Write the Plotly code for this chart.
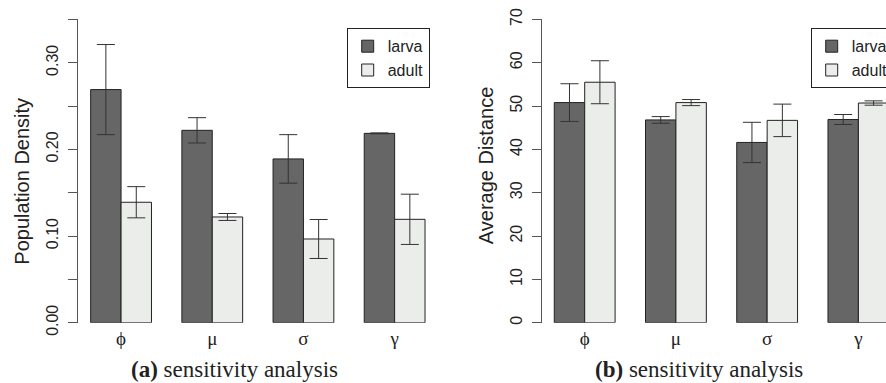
import plotly.graph_objects as go

params = ["ϕ", "μ", "σ", "γ"]

# (a) Population Density
density_larva = [0.269, 0.222, 0.189, 0.2185]
density_larva_err = [0.052, 0.0146, 0.028, 0.0005]
density_adult = [0.139, 0.122, 0.0966, 0.1193]
density_adult_err = [0.018, 0.004, 0.0225, 0.029]

# (b) Average Distance
dist_larva = [50.8, 46.8, 41.6, 46.9]
dist_larva_err = [4.35, 0.77, 4.65, 1.15]
dist_adult = [55.5, 50.8, 46.7, 50.7]
dist_adult_err = [4.96, 0.7, 3.75, 0.5]

W, H = 886, 383
LARVA = "#666666"
ADULT = "#ebedeb"
EDGE = "#222222"
AXC = "#555555"
SANS = "Liberation Sans, Arial, sans-serif"
SERIF = "Liberation Serif, Times New Roman, serif"
CAPF = "Liberation Serif, Times New Roman, serif"

fig = go.Figure()

def add(vals, errs, name, color, xa, ya, leg, show):
    fig.add_trace(go.Bar(
        x=params, y=vals, name=name, xaxis=xa, yaxis=ya, legend=leg,
        marker=dict(color=color, line=dict(color=EDGE, width=1)),
        error_y=dict(type="data", array=errs, visible=True, color="#333333",
                     thickness=1, width=9),
        showlegend=show,
    ))

add(density_larva, density_larva_err, "larva", LARVA, "x", "y", "legend", True)
add(density_adult, density_adult_err, "adult", ADULT, "x", "y", "legend", True)
add(dist_larva, dist_larva_err, "larva", LARVA, "x2", "y2", "legend2", True)
add(dist_adult, dist_adult_err, "adult", ADULT, "x2", "y2", "legend2", True)

ydom = [1 - 322.7 / H, 1 - 19.4 / H]

xcommon = dict(showline=False, ticks="", showgrid=False, zeroline=False,
               tickfont=dict(family=SERIF, size=19, color="#222222"),
               type="category", ticklabelstandoff=2)
ycommon = dict(showline=True, linecolor=AXC, linewidth=1, ticks="outside",
               ticklen=9, tickcolor=AXC, tickwidth=1, showgrid=False,
               zeroline=False, tickangle=-90, ticklabelstandoff=4,
               tickfont=dict(family=SANS, size=16, color="#222222"))

def ann(text, x, y, font, angle=0):
    return dict(text=text, x=x / W, y=1 - y / H, xref="paper", yref="paper",
                xanchor="center", yanchor="middle", textangle=angle,
                showarrow=False, font=font)

fig.update_layout(
    width=W, height=H,
    margin=dict(l=0, r=0, t=0, b=0, autoexpand=False),
    paper_bgcolor="white", plot_bgcolor="white",
    barmode="group", bargap=1 / 3, bargroupgap=0,
    xaxis=dict(domain=[77.3 / W, 438.4 / W], range=[-0.48, 3.48], anchor="y", **xcommon),
    yaxis=dict(domain=ydom, range=[0, 0.35], anchor="free", position=77.3 / W,
               tickvals=[0, 0.1, 0.2, 0.3], tickformat=".2f",
               minor=dict(dtick=0.05, ticks="outside", ticklen=9, tickcolor=AXC),
               **ycommon),
    xaxis2=dict(domain=[540.9 / W, 1.0], range=[-0.48, 3.3027], anchor="y2", **xcommon),
    yaxis2=dict(domain=ydom, range=[0, 70], anchor="free", position=540.9 / W,
                dtick=10, **ycommon),
    legend=dict(x=346.7 / W, y=1 - 28.3 / H, xanchor="left", yanchor="top",
                bordercolor=EDGE, borderwidth=1, bgcolor="white",
                font=dict(family=SANS, size=16, color="#222222")),
    legend2=dict(x=810.7 / W, y=1 - 28.3 / H, xanchor="left", yanchor="top",
                 bordercolor=EDGE, borderwidth=1, bgcolor="white",
                 font=dict(family=SANS, size=16, color="#222222")),
    annotations=[
        ann("Population Density", 21.7, 181, dict(family=SANS, size=20, color="#222222"), -90),
        ann("Average Distance", 485.7, 165.5, dict(family=SANS, size=20, color="#222222"), -90),
        ann("<b>(a)</b> sensitivity analysis", 234, 369, dict(family=CAPF, size=23, color="#222222")),
        ann("<b>(b)</b> sensitivity analysis", 699.3, 369, dict(family=CAPF, size=23, color="#222222")),
    ],
)

fig.write_html("out.html")
